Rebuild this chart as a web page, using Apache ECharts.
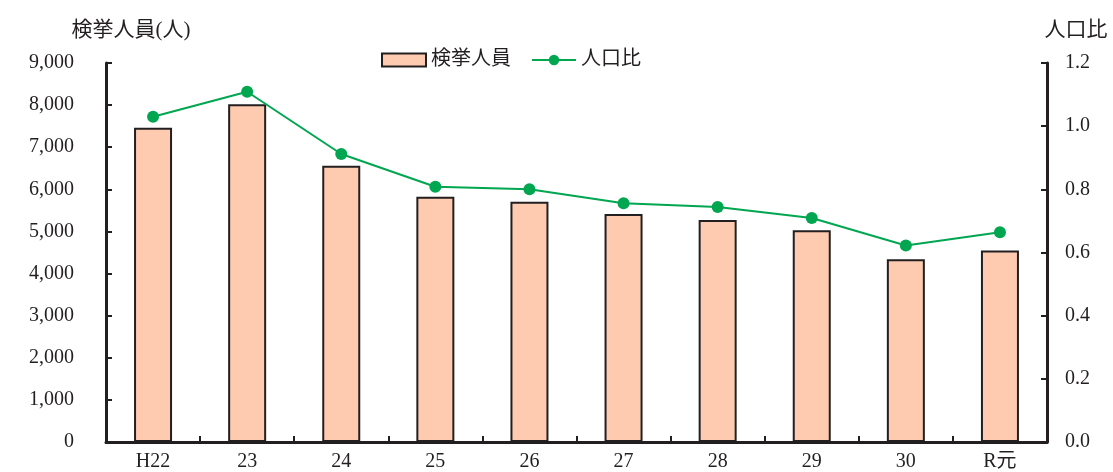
<!DOCTYPE html>
<html>
<head>
<meta charset="utf-8">
<script src="https://cdn.jsdelivr.net/npm/echarts@6/dist/echarts.min.js"></script>
<style>
  html, body { margin: 0; padding: 0; background: #fff; }
  #container { width: 1113px; height: 472px; }
</style>
</head>
<body>
<div id="container"></div>
<script>
var categories = ['H22', '23', '24', '25', '26', '27', '28', '29', '30', 'R元']
var arrests = [7460, 8020, 6560, 5825, 5705, 5415, 5270, 5030, 4340, 4545]
var ratio = [1.030, 1.109, 0.912, 0.808, 0.800, 0.756, 0.744, 0.709, 0.622, 0.664]
var leftTitle = '検挙人員(人)'
var rightTitle = '人口比'

var font = '"Liberation Serif", "Noto Sans CJK JP", serif'
var ink = '#231f20'

window.onload = function(){
    var myChart = echarts.init(document.getElementById('container'))
    var axisLine = { show: true, lineStyle: { color: ink, width: 3 } }
    var option = {
        animation: false,
        textStyle: { fontFamily: font, color: ink },
        grid: { left: 106, right: 66, top: 63, bottom: 30 },
        legend: {
            top: 45,
            left: 376,
            itemGap: 20,
            itemWidth: 44,
            itemHeight: 13,
            textStyle: { fontSize: 20, color: ink, fontFamily: font },
            data: [
                { name: '検挙人員', icon: 'rect', itemStyle: { color: '#ffcbb0', borderColor: ink, borderWidth: 2 } },
                { name: '人口比' }
            ]
        },
        xAxis: {
            type: 'category',
            data: categories,
            axisLine: axisLine,
            axisTick: { show: true, inside: true, length: 6, lineStyle: { color: ink, width: 2 } },
            axisLabel: { fontSize: 20, color: ink, margin: 10, fontFamily: font }
        },
        yAxis: [{
            type: 'value',
            min: 0, max: 9000, interval: 1000,
            name: leftTitle,
            nameGap: 22,
            nameTextStyle: { fontSize: 21, color: ink, align: 'center', padding: [0, 0, 0, 50] },
            axisLine: axisLine,
            axisTick: { show: true, inside: true, length: 6, lineStyle: { color: ink, width: 2 } },
            splitLine: { show: false },
            axisLabel: {
                fontSize: 20, color: ink, margin: 32, fontFamily: font,
                formatter: function(v){ return v.toLocaleString('en-US') }
            }
        }, {
            type: 'value',
            min: 0, max: 1.2, interval: 0.2,
            name: rightTitle,
            nameGap: 22,
            nameTextStyle: { fontSize: 21, color: ink, align: 'center', padding: [0, 0, 0, 58] },
            axisLine: axisLine,
            axisTick: { show: true, inside: true, length: 6, lineStyle: { color: ink, width: 2 } },
            splitLine: { show: false },
            axisLabel: {
                fontSize: 20, color: ink, margin: 18, fontFamily: font,
                formatter: function(v){ return v.toFixed(1) }
            }
        }],
        series: [{
            name: '検挙人員',
            type: 'bar',
            data: arrests,
            barWidth: 38,
            itemStyle: { color: '#ffcbb0', borderColor: ink, borderWidth: 2 }
        }, {
            name: '人口比',
            type: 'line',
            yAxisIndex: 1,
            data: ratio,
            symbol: 'circle',
            symbolSize: 12,
            lineStyle: { color: '#00a650', width: 2 },
            itemStyle: { color: '#00a650' }
        }]
    }
    myChart.setOption(option, true)
}
</script>
</body>
</html>
